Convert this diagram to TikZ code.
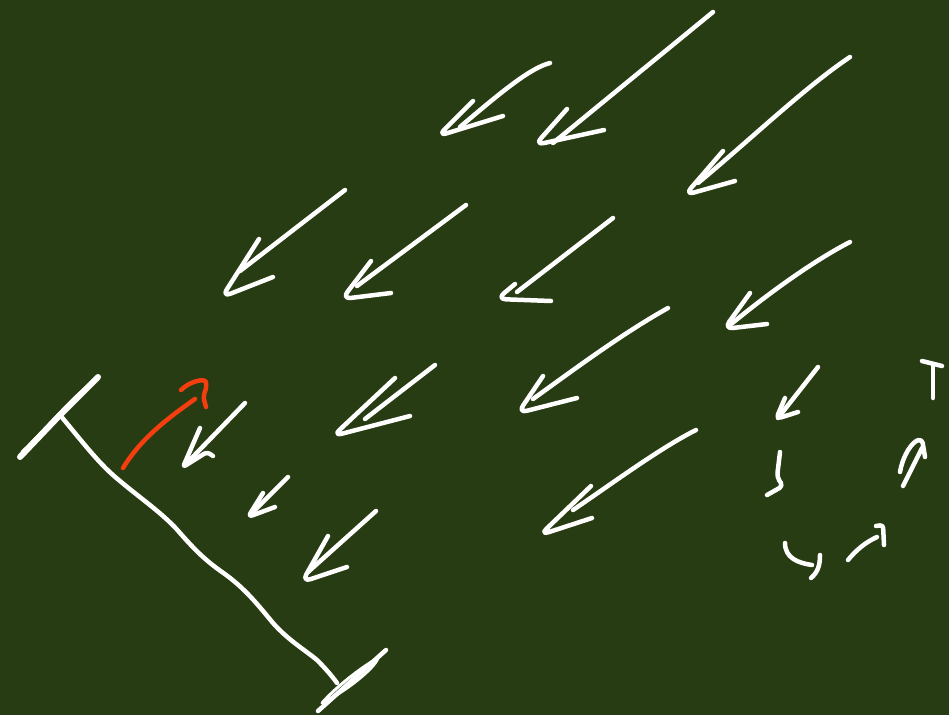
\documentclass[tikz,border=0pt]{standalone}
\definecolor{board}{RGB}{39,60,18}
\definecolor{chalkred}{RGB}{245,62,16}
\begin{document}
\begin{tikzpicture}[x=1pt,y=-1pt,
  stroke/.style={draw=white, line width=4.5pt, line cap=round, line join=round},
  redstroke/.style={draw=chalkred, line width=4.5pt, line cap=round, line join=round},
  headv/.style={stroke, rounded corners=9pt},
  headsmall/.style={stroke, rounded corners=5pt}]
\fill[board] (0,0) rectangle (949,715);
\useasboundingbox (0,0) rectangle (949,715);
% ---- big arrows: shaft, then head barb1 -- tip -- barb2
% A
\draw[stroke] (550,63) .. controls (530,68) and (500,93) .. (460,127);
\draw[headv] (473,101) -- (438,136) -- (503,116);
% B
\draw[stroke] (713,12) -- (553,143);
\draw[headv] (567,109) -- (535,145) -- (604,130);
% C
\draw[stroke] (850,57) .. controls (805,87) and (750,140) .. (698,183);
\draw[headv] (723,151) -- (685,195) -- (735,181);
% D
\draw[stroke] (345,190) -- (240,271);
\draw[headv] (259,239) -- (222,297) -- (273,277);
% E
\draw[stroke] (466,205) -- (357,286);
\draw[headv] (371,261) -- (342,299) -- (391,293);
% F
\draw[stroke] (613,218) -- (517,292);
\draw[headv] (515,284) -- (497,299) -- (551,301);
% G
\draw[stroke] (850,242) .. controls (815,260) and (770,292) .. (730,325);
\draw[headv] (750,293) -- (724,329) -- (767,324);
% H
\draw[stroke] (435,365) -- (365,419);
\draw[headv] (395,378) -- (333,436) -- (410,416);
% I
\draw[stroke] (668,308) .. controls (625,332) and (580,365) .. (533,399);
\draw[headv] (543,376) -- (518,413) -- (577,398);
% J
\draw[stroke] (696,430) .. controls (660,448) and (610,485) .. (573,510);
\draw[headv] (591,486) -- (540,535) -- (592,518);
% ---- small arrows near bracket
% K
\draw[stroke] (245,403) -- (185,465);
\draw[stroke, rounded corners=3pt] (200,428) -- (183,467) -- (207,452) -- (213,456);
% L
\draw[stroke] (288,477) -- (250,515);
\draw[headsmall] (263,493) -- (248,517) -- (275,507);
% M
\draw[stroke] (376,511) -- (308,572);
\draw[headv] (328,536) -- (302,582) -- (347,567);
% ---- red arrow
\draw[redstroke] (123,468) .. controls (140,440) and (165,420) .. (195,399);
\draw[redstroke, rounded corners=5pt] (181,390) .. controls (190,381) and (205,378) .. (207,387) -- (203,396) -- (206,407);
% ---- bracket
\draw[stroke, line width=6pt] (20,457) -- (60,415) -- (98,377);
\draw[stroke, line width=3pt] (22,452) .. controls (45,430) and (70,400) .. (88,386);
\draw[stroke] (60,415) .. controls (85,445) and (100,465) .. (120,481)
  .. controls (140,498) and (165,515) .. (180,533)
  .. controls (195,550) and (205,560) .. (222,572)
  .. controls (245,588) and (258,605) .. (273,623)
  .. controls (288,640) and (305,650) .. (317,660)
  .. controls (325,668) and (332,676) .. (337,683);
\draw[stroke] (318,711) -- (386,650);
\draw[stroke, line width=3pt] (322,703) .. controls (335,688) and (360,668) .. (378,658) .. controls (375,668) and (345,692) .. (322,703);
% ---- circular cycle of small arrows
% N
\draw[stroke] (818,367) -- (778,418);
\draw[headsmall] (785,398) -- (776,419) -- (798,412);
% squiggle
\draw[stroke, rounded corners=4pt] (780,452) -- (777,477) -- (783,486) -- (767,495);
% bottom hook
\draw[stroke] (785,543) .. controls (785,558) and (798,563) .. (812,565);
\draw[stroke] (820,555) .. controls (820,565) and (818,572) .. (811,578);
% lower right hook
\draw[stroke] (848,560) .. controls (856,550) and (866,542) .. (877,537);
\draw[stroke, rounded corners=3pt] (876,526) -- (883,525) -- (884,545);
% upward arrow
\draw[stroke] (903,486) -- (922,448);
\draw[stroke, rounded corners=4pt] (900,472) .. controls (903,455) and (912,442) .. (922,439) -- (925,457);
% T
\draw[stroke] (933,398) -- (933,364);
\draw[stroke] (922,361) -- (942,366);
\end{tikzpicture}
\end{document}
